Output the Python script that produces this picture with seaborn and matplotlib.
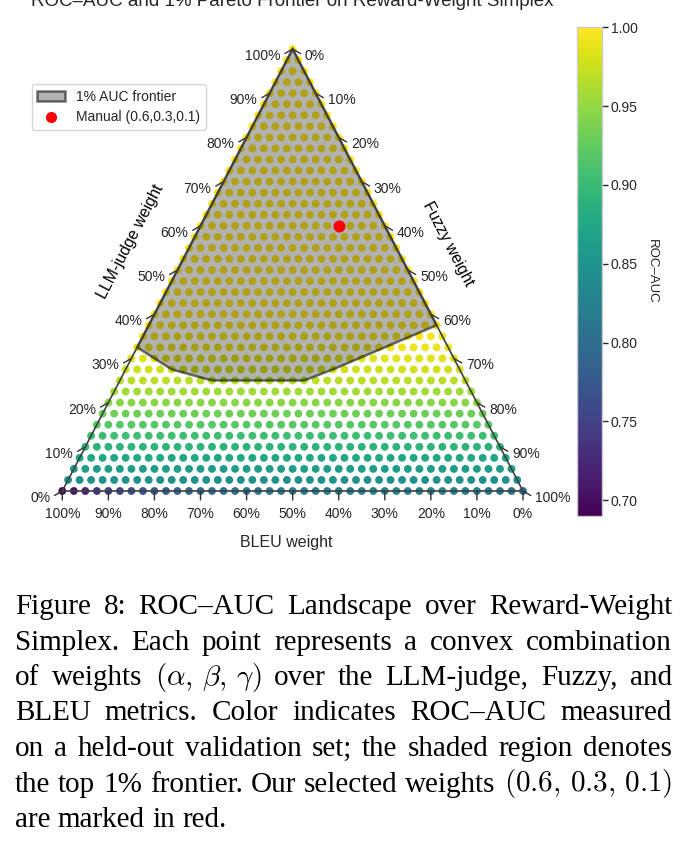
import numpy as np
import pandas as pd
import matplotlib
matplotlib.use("Agg")
import matplotlib.pyplot as plt
from matplotlib.patches import Polygon
from matplotlib.lines import Line2D
from matplotlib.cm import ScalarMappable
from matplotlib.colors import Normalize
import seaborn as sns

W, H = 689, 851
sns.set_theme(style="white")
plt.rcParams["font.family"] = ["Liberation Sans", "DejaVu Sans"]
plt.rcParams["mathtext.fontset"] = "cm"

# --- data ---
# ROC-AUC per LLM-judge weight level 0.025 .. 1.0 (rows of the simplex grid)
row_auc = [0.845, 0.861, 0.876, 0.890, 0.905, 0.919, 0.932, 0.945, 0.957, 0.968,
           0.977, 0.985, 0.991, 0.995, 0.997, 0.998,
           0.999, 0.999, 0.999, 1.000, 1.000, 1.000, 1.000, 1.000, 1.000, 1.000,
           1.000, 1.000, 1.000, 1.000, 1.000, 1.000, 1.000, 1.000, 1.000, 1.000,
           1.000, 1.000, 1.000, 1.000]
# bottom row (LLM-judge = 0), Fuzzy weight 0 .. 1
bottom_row_auc = [0.690, 0.708, 0.722, 0.735, 0.746, 0.755, 0.763, 0.770, 0.776, 0.782,
                  0.787, 0.792, 0.796, 0.800, 0.803, 0.806, 0.809, 0.811, 0.813, 0.815,
                  0.817, 0.819, 0.820, 0.821, 0.822, 0.823, 0.824, 0.825, 0.826, 0.826,
                  0.827, 0.827, 0.827, 0.826, 0.825, 0.823, 0.820, 0.817, 0.813, 0.807,
                  0.798]
# 1% AUC frontier hull (LLM-judge, Fuzzy)
frontier_llm = [1.0, 0.325, 0.300, 0.275, 0.250, 0.250, 0.275, 0.375]
frontier_fuzzy = [0.0, 0.000, 0.050, 0.100, 0.200, 0.400, 0.450, 0.625]
manual_w = (0.6, 0.3, 0.1)  # LLM-judge, Fuzzy, BLEU
tick_vals = [0, 10, 20, 30, 40, 50, 60, 70, 80, 90, 100]
cbar_ticks = [0.70, 0.75, 0.80, 0.85, 0.90, 0.95, 1.00]
vmin, vmax = 0.69, 1.0

caption = [
    "Figure 8: ROC–AUC Landscape over Reward-Weight",
    "Simplex. Each point represents a convex combination",
    r"of weights $(\alpha,\,\beta,\,\gamma)$ over the LLM-judge, Fuzzy, and",
    "BLEU metrics. Color indicates ROC–AUC measured",
    "on a held-out validation set; the shaded region denotes",
    r"the top 1% frontier. Our selected weights $(0.6,\,0.3,\,0.1)$",
    "are marked in red.",
]


def tern(llm, fuzzy):
    return fuzzy + llm / 2.0, llm


# build grid
n = len(bottom_row_auc) - 1
recs = []
for i in range(n + 1):
    for j in range(n + 1 - i):
        llm, fz = i / n, j / n
        auc = bottom_row_auc[j] if i == 0 else row_auc[i - 1]
        x, y = tern(llm, fz)
        recs.append((x, y, auc))
df = pd.DataFrame(recs, columns=["x", "y", "auc"])

fig = plt.figure(figsize=(W / 100, H / 100), dpi=100)
ax = fig.add_axes([62.3 / W, 1 - 491 / H, 460.7 / W, 442 / H])

sns.scatterplot(data=df, x="x", y="y", hue="auc", palette="viridis",
                hue_norm=(vmin, vmax), s=32, linewidth=0, legend=False,
                ax=ax, clip_on=False, zorder=2)

fx, fy = tern(np.array(frontier_llm), np.array(frontier_fuzzy))
poly = Polygon(np.column_stack([fx, fy]), closed=True,
               facecolor=(0, 0, 0, 0.3), edgecolor=(0, 0, 0, 0.55),
               lw=1.8, zorder=3, clip_on=False)
ax.add_patch(poly)

mx, my = tern(manual_w[0], manual_w[1])
sns.scatterplot(x=[mx], y=[my], color="red", s=75, linewidth=0, ax=ax,
                zorder=6, clip_on=False)

# triangle frame
tx, ty = tern(np.array([0, 0, 1, 0]), np.array([0, 1, 0, 0]))
ax.plot(tx, ty, color=".25", lw=1.2, zorder=5, clip_on=False)

ax.set_xlim(0, 1)
ax.set_ylim(0, 1)
ax.axis("off")

pt = 0.72  # px -> points at 100 dpi
tick_len, lab_off = 9 * pt, 14 * pt
dirs = {"left": (-0.866, -0.5), "right": (0.866, -0.5), "bottom": (0.0, -1.0)}
for v in tick_vals:
    f = v / 100
    spots = [
        ("left", tern(f, 0.0), "right", "center", lab_off),
        ("right", tern(1 - f, f), "left", "center", lab_off),
        ("bottom", tern(0.0, 1 - f), "center", "center", 23 * pt),
    ]
    for side, (x, y), ha, va, off in spots:
        dx, dy = dirs[side]
        ax.annotate("", xy=(x, y), xytext=(dx * tick_len, dy * tick_len),
                    textcoords="offset points", annotation_clip=False,
                    arrowprops=dict(arrowstyle="-", color=".2", lw=1.0,
                                    shrinkA=0, shrinkB=0))
        ax.annotate(f"{v}%", xy=(x, y), xytext=(dx * off, dy * off),
                    textcoords="offset points", ha=ha, va=va, fontsize=10,
                    color=".15", annotation_clip=False)

# axis labels
ax.annotate("LLM-judge weight", xy=tern(0.5, 0.0), xytext=(-33.6, 20.4),
            textcoords="offset points", ha="center", va="center",
            rotation=62.5, fontsize=11.5, color="black", annotation_clip=False)
ax.annotate("Fuzzy weight", xy=tern(0.5, 0.5), xytext=(29.1, 18.7),
            textcoords="offset points", ha="center", va="center",
            rotation=-62.5, fontsize=11.5, color="black", annotation_clip=False)
ax.annotate("BLEU weight", xy=tern(0.0, 0.5), xytext=(-4.5, -37.1),
            textcoords="offset points", ha="center", va="center",
            fontsize=11.5, color=".15", annotation_clip=False)

# legend
handles = [poly,
           Line2D([], [], marker="o", linestyle="none", color="red",
                  markersize=8, markeredgewidth=0)]
fig.legend(handles, ["1% AUC frontier", "Manual (0.6,0.3,0.1)"],
           loc="upper left", bbox_to_anchor=(31.7 / W, 1 - 84 / H),
           bbox_transform=fig.transFigure, borderaxespad=0, fontsize=10,
           frameon=True)

# colorbar
cax = fig.add_axes([577.3 / W, 1 - 516 / H, 25 / W, 488.7 / H])
sm = ScalarMappable(norm=Normalize(vmin, vmax), cmap="viridis")
cbar = fig.colorbar(sm, cax=cax)
cbar.set_ticks(cbar_ticks)
cbar.set_ticklabels([f"{t:.2f}" for t in cbar_ticks])
cbar.outline.set_edgecolor("0.8")
cbar.outline.set_linewidth(1.0)
cax.tick_params(length=4, width=1, color=".15", labelsize=10, pad=2,
                labelcolor=".15", right=True)
cbar.set_label("ROC–AUC", rotation=270, fontsize=9.5, labelpad=6, va="bottom")

# title (cut at the top in the original)
fig.text(292.7 / W, 1 - 6 / H,
         "ROC–AUC and 1% Pareto Frontier on Reward-Weight Simplex",
         ha="center", va="baseline", fontsize=13.5, color=".15")

# caption, justified
renderer = fig.canvas.get_renderer()
cap_left, cap_right = 15, 672
cap_size = 21
for k, line in enumerate(caption):
    base = 1 - (614 + k * 35.5) / H
    words = line.split(" ")
    # keep math groups intact
    merged = []
    for w in words:
        if merged and merged[-1].count("$") % 2 == 1:
            merged[-1] += " " + w
        else:
            merged.append(w)
    texts = [fig.text(0, base, w, fontsize=cap_size, family=["Liberation Serif"],
                      va="baseline", ha="left", color="black") for w in merged]
    widths = [t.get_window_extent(renderer).width for t in texts]
    if k < len(caption) - 1:
        gap = (cap_right - cap_left - sum(widths)) / (len(texts) - 1)
    else:
        gap = 0.25 * cap_size / pt
    xpos = cap_left
    for t, wd in zip(texts, widths):
        t.set_x(xpos / W)
        xpos += wd + gap

fig.savefig("out.png", dpi=100)
